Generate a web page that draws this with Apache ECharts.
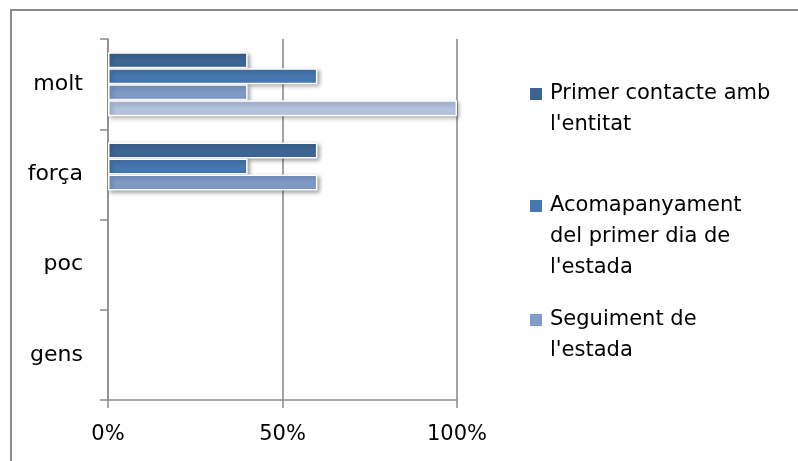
<!DOCTYPE html>
<html>
<head>
<meta charset="utf-8">
<script src="https://cdn.jsdelivr.net/npm/echarts@6/dist/echarts.min.js"></script>
<style>
html,body{margin:0;padding:0;background:#fff;}
#c{width:798px;height:461px;}
</style>
</head>
<body>
<div id="c"></div>
<script>
const categories = ['gens', 'poc', 'força', 'molt'];
const xTicks = [0, 50, 100];
const seriesNames = ['Primer contacte amb l\'entitat', 'Acomapanyament del primer dia de l\'estada', 'Seguiment de l\'estada', 'Sèrie 4'];
const legendLines = [['Primer contacte amb', 'l\'entitat'], ['Acomapanyament', 'del primer dia de', 'l\'estada'], ['Seguiment de', 'l\'estada']];
const primerContacte = [null, null, 60, 40];
const acompanyament = [null, null, 40, 60];
const seguiment = [null, null, 60, 40];
const serie4 = [null, null, null, 100];
const colors = ['#3D6594', '#4777B0', '#7E9BC8', '#B3C3DE'];

const FONT = 'DejaVu Sans';
const values = [primerContacte, acompanyament, seguiment, serie4];
const LH = 31;
const legendFirstLine = [94, 206, 320];

const series = values.map((vals, i) => ({
  name: seriesNames[i],
  type: 'bar',
  data: vals,
  barWidth: 16,
  barGap: '0%',
  itemStyle: {
    color: colors[i],
    borderColor: '#ffffff',
    borderWidth: 1.5,
    shadowBlur: 4,
    shadowColor: 'rgba(0,0,0,0.35)',
    shadowOffsetX: 2,
    shadowOffsetY: 2
  }
}));

const legends = legendLines.map((lines, i) => ({
  show: true,
  data: [seriesNames[i]],
  left: 530,
  top: legendFirstLine[i] - (lines.length - 1) * LH - LH / 2,
  padding: 0,
  itemWidth: 12,
  itemHeight: 12,
  itemGap: 0,
  icon: 'rect',
  selectedMode: false,
  itemStyle: {borderWidth: 0, shadowBlur: 0, shadowOffsetX: 0, shadowOffsetY: 0},
  formatter: () => '\n'.repeat(lines.length - 1) + lines.join('\n'),
  textStyle: {
    fontFamily: FONT,
    fontSize: 21,
    color: '#000',
    lineHeight: LH,
    padding: [0, 0, 0, 3]
  }
}));

const chart = echarts.init(document.getElementById('c'), null, {renderer: 'canvas'});
chart.setOption({
  animation: false,
  color: colors,
  grid: {left: 108, right: 341, top: 39, bottom: 61, containLabel: false},
  legend: legends,
  xAxis: {
    type: 'value',
    min: 0,
    max: 100,
    interval: 50,
    axisLine: {show: true, lineStyle: {color: '#8c8c8c', width: 1.5}},
    axisTick: {show: true, length: 8, lineStyle: {color: '#8c8c8c', width: 1.5}},
    splitLine: {show: true, lineStyle: {color: '#868686', width: 1.5}},
    axisLabel: {
      margin: 24,
      fontFamily: FONT,
      fontSize: 21,
      color: '#000',
      formatter: v => xTicks.includes(v) ? v + '%' : ''
    }
  },
  yAxis: {
    type: 'category',
    data: categories,
    axisLine: {show: true, lineStyle: {color: '#8c8c8c', width: 1.5}},
    axisTick: {show: true, length: 8, lineStyle: {color: '#8c8c8c', width: 1.5}},
    splitLine: {show: false},
    axisLabel: {margin: 25, fontFamily: FONT, fontSize: 22, color: '#000'}
  },
  graphic: [{
    type: 'polyline',
    shape: {points: [[11, 461], [11, 10], [798, 10]]},
    style: {stroke: '#8a8a8a', lineWidth: 2, fill: null},
    silent: true
  }],
  series: series
});
</script>
</body>
</html>
